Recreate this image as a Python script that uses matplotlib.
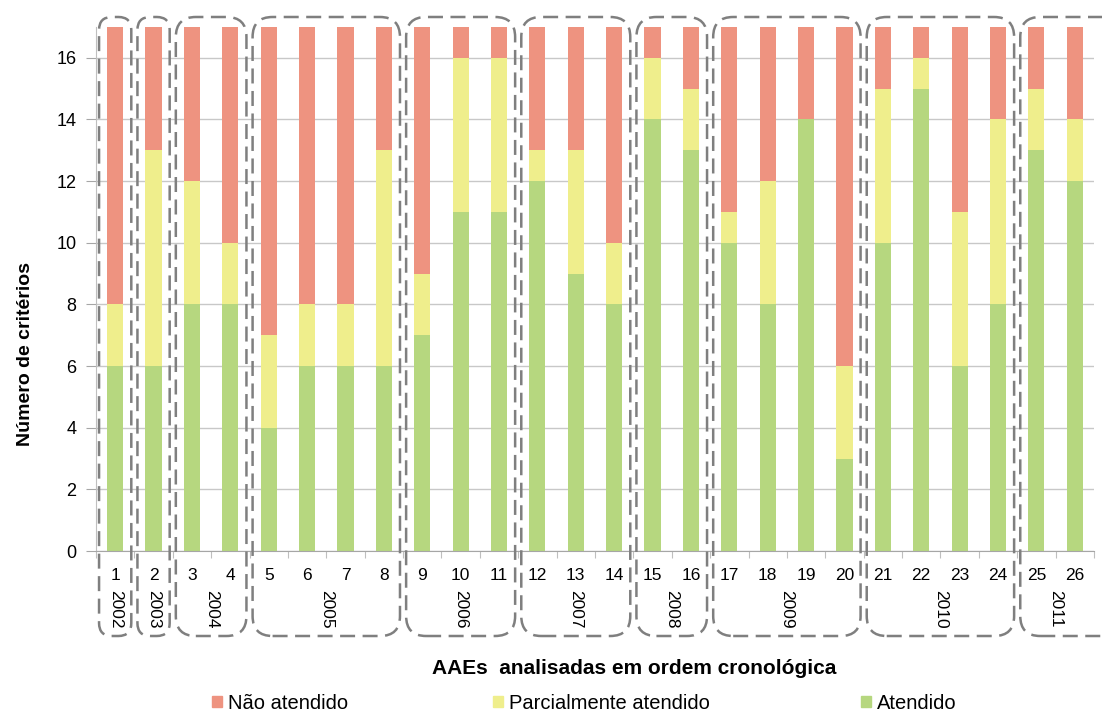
import numpy as np
import matplotlib.pyplot as plt
from matplotlib.patches import FancyBboxPatch, Patch
from matplotlib.transforms import IdentityTransform, blended_transform_factory

plt.rcParams['font.family'] = ['Liberation Sans', 'DejaVu Sans']

# AAEs 1..26, counts per criterion status (17 criteria total)
aae = [str(i) for i in range(1, 27)]
atendido = [6, 6, 8, 8, 4, 6, 6, 6, 7, 11, 11, 12, 9, 8, 14, 13, 10, 8, 14, 3, 10, 15, 6, 8, 13, 12]
parcial = [2, 7, 4, 2, 3, 2, 2, 7, 2, 5, 5, 1, 4, 2, 2, 2, 1, 4, 0, 3, 5, 1, 5, 6, 2, 2]
nao = [9, 4, 5, 7, 10, 9, 9, 4, 8, 1, 1, 4, 4, 7, 1, 2, 6, 5, 3, 11, 2, 1, 6, 3, 2, 3]

# year groups: (label, first index, last index), 0-based
anos = ['2002', '2003', '2004', '2005', '2006', '2007', '2008', '2009', '2010', '2011']
inicio = [0, 1, 2, 4, 8, 11, 14, 16, 20, 24]
fim = [0, 1, 3, 7, 10, 13, 15, 19, 23, 25]

c_nao = '#EE9380'
c_parc = '#EFEE8C'
c_at = '#B6D77F'

fig = plt.figure(figsize=(11.02, 7.11), dpi=100)
ax = fig.add_axes([0.0871, 0.225, 0.9056, 0.737])

x = np.arange(len(aae))
w = 0.42
ax.bar(x, atendido, w, color=c_at, zorder=2)
ax.bar(x, parcial, w, bottom=atendido, color=c_parc, zorder=2)
ax.bar(x, nao, w, bottom=np.array(atendido) + np.array(parcial), color=c_nao, zorder=2)

ax.set_xlim(-0.5, len(aae) - 0.5)
ax.set_ylim(0, 17)
ax.set_yticks(range(0, 17, 2))
ax.tick_params(axis='y', labelsize=13, length=7, color='#A6A6A6', pad=7)
ax.yaxis.grid(True, color='#C8C8C8', linewidth=1)
ax.set_axisbelow(True)
for s in ['top', 'right']:
    ax.spines[s].set_visible(False)
ax.spines['left'].set_color('#BFBFBF')
ax.spines['bottom'].set_color('#A6A6A6')

# category ticks at boundaries
ax.set_xticks(np.arange(-0.5, len(aae), 1.0))
ax.set_xticklabels([])
ax.tick_params(axis='x', length=5, color='#BFBFBF')

trans = blended_transform_factory(ax.transData, ax.transAxes)
for i, lab in enumerate(aae):
    ax.text(i, -0.046, lab, transform=trans, ha='center', va='center', fontsize=12.5)
for lab, a, b in zip(anos, inicio, fim):
    ax.text((a + b) / 2, -0.075, lab, transform=trans, ha='center', va='top',
            rotation=270, fontsize=12.5)

fig.text(0.0227, 0.502, 'Número de critérios', rotation=90, ha='center', va='center',
         fontsize=14, fontweight='bold')
fig.text(0.5755, 0.06, 'AAEs  analisadas em ordem cronológica', ha='center', va='center',
         fontsize=15, fontweight='bold')

# legend entries spread like the original
leg_x = [0.1924, 0.4474, 0.7813]
for lx, lab, col in zip(leg_x, ['Não atendido', 'Parcialmente atendido', 'Atendido'],
                        [c_nao, c_parc, c_at]):
    fig.legend(handles=[Patch(color=col, label=lab)], loc='center left',
               bbox_to_anchor=(lx, 0.011), frameon=False, fontsize=14.5,
               handlelength=0.5, handleheight=0.5, handletextpad=0.3,
               borderpad=0, borderaxespad=0)

# dashed rounded boxes around each year
fig.canvas.draw()
H = fig.bbox.height
for k, (a, b) in enumerate(zip(inicio, fim)):
    x0, _ = ax.transData.transform((a - 0.42, 0))
    x1, _ = ax.transData.transform((b + 0.42 if k < len(anos) - 1 else b + 1.3, 0))
    y_top = H - 17
    y_bot = H - 636
    r = min(20, (x1 - x0) / 2.5)
    box = FancyBboxPatch((x0 + r, y_bot + r), (x1 - x0) - 2 * r, (y_top - y_bot) - 2 * r,
                         boxstyle='round,pad=%g,rounding_size=%g' % (r, r),
                         transform=IdentityTransform(), fill=False,
                         edgecolor='#7F7F7F', linewidth=1.8, linestyle=(0, (6, 3)),
                         clip_on=False, zorder=5)
    fig.add_artist(box)

plt.savefig('out.png', dpi=100)
